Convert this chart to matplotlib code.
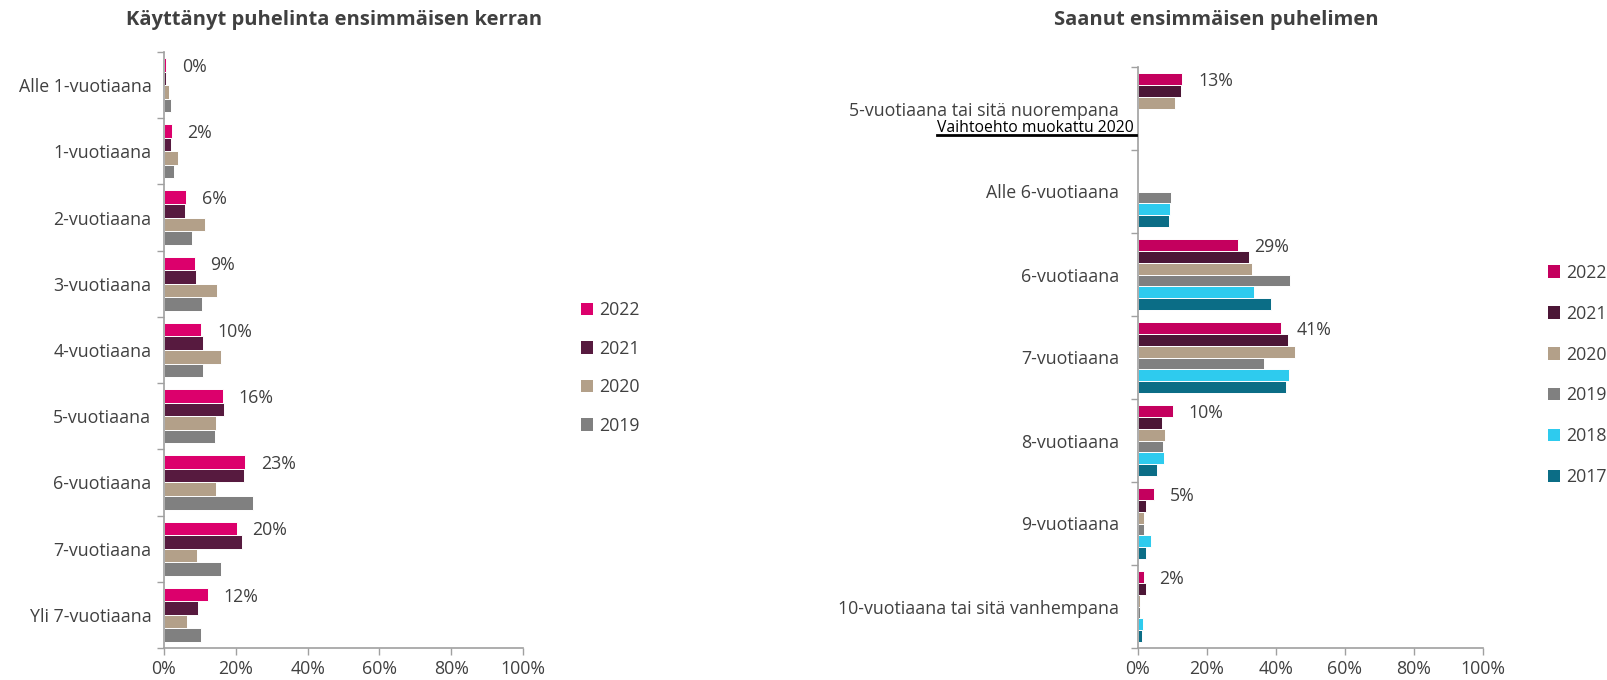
import numpy as np
import matplotlib
matplotlib.use('Agg')
import matplotlib.pyplot as plt
from matplotlib.lines import Line2D

plt.rcParams['font.family'] = ['Open Sans', 'DejaVu Sans']

# vasen kuvio: käyttänyt puhelinta ensimmäisen kerran
left_cats = ['Alle 1-vuotiaana', '1-vuotiaana', '2-vuotiaana', '3-vuotiaana', '4-vuotiaana',
             '5-vuotiaana', '6-vuotiaana', '7-vuotiaana', 'Yli 7-vuotiaana']
left_2022 = [0.5, 2.1, 6.0, 8.5, 10.3, 16.4, 22.7, 20.2, 12.2]
left_2021 = [0.6, 1.9, 5.8, 9.0, 10.8, 16.7, 22.4, 21.8, 9.4]
left_2020 = [1.4, 4.0, 11.5, 14.8, 16.0, 14.4, 14.4, 9.2, 6.5]
left_2019 = [2.0, 2.9, 7.8, 10.7, 10.8, 14.2, 24.7, 16.0, 10.4]
left_labels = ['0%', '2%', '6%', '9%', '10%', '16%', '23%', '20%', '12%']

# oikea kuvio: saanut ensimmäisen puhelimen
right_cats = ['5-vuotiaana tai sitä nuorempana', 'Alle 6-vuotiaana', '6-vuotiaana', '7-vuotiaana',
              '8-vuotiaana', '9-vuotiaana', '10-vuotiaana tai sitä vanhempana']
right_2022 = [12.8, np.nan, 28.9, 41.4, 10.1, 4.6, 1.6]
right_2021 = [12.5, np.nan, 32.2, 43.5, 6.9, 2.4, 2.4]
right_2020 = [10.7, np.nan, 33.1, 45.6, 7.9, 1.7, 0.5]
right_2019 = [np.nan, 9.6, 44.0, 36.5, 7.3, 1.6, 0.5]
right_2018 = [np.nan, 9.4, 33.7, 43.8, 7.5, 3.9, 1.4]
right_2017 = [np.nan, 9.0, 38.5, 43.0, 5.5, 2.4, 1.3]
right_labels = ['13%', '', '29%', '41%', '10%', '5%', '2%']

years_left = ['2022', '2021', '2020', '2019']
years_right = ['2022', '2021', '2020', '2019', '2018', '2017']
colors_left = ['#DC006C', '#571A3F', '#B3A089', '#808080']
colors_right = ['#C4005E', '#4C1636', '#B3A089', '#808080', '#2ECBEE', '#0B6D86']

txt = '#404040'
axcol = '#A0A0A0'
fs = 12.8

fig = plt.figure(figsize=(16.07, 6.8), dpi=100)
ax1 = fig.add_axes([164 / 1607, 1 - 648 / 680, 359 / 1607, 596 / 680])
ax2 = fig.add_axes([1138 / 1607, 1 - 648 / 680, 345 / 1607, 581 / 680])


def draw(ax, cats, series, years, colors, labels, bh):
    n = len(cats)
    y = np.arange(n)
    k = len(series)
    for j, vals in enumerate(series):
        pos = y - bh * k / 2 + bh * (j + 0.5)
        ax.barh(pos, vals, height=bh, color=colors[j], edgecolor='white',
                linewidth=0.7, label=years[j])
    top = series[0]
    for i in range(n):
        if labels[i] == '':
            continue
        ax.annotate(labels[i], xy=(top[i], y[i] - bh * k / 2 + bh * 0.5),
                    xytext=(11.5, -1.5), textcoords='offset points',
                    ha='left', va='center', fontsize=fs, color=txt)
    ax.set_xlim(0, 100)
    ax.set_ylim(n - 0.5, -0.5)
    ax.set_xticks(range(0, 101, 20))
    ax.set_xticklabels([f'{v}%' for v in range(0, 101, 20)])
    ax.set_yticks(y)
    ax.set_yticklabels(cats)
    ax.set_yticks(np.arange(n + 1) - 0.5, minor=True)
    ax.tick_params(axis='y', which='major', length=0, pad=9, labelsize=fs, labelcolor=txt)
    ax.tick_params(axis='y', which='minor', length=5, color=axcol, width=1)
    ax.tick_params(axis='x', length=5, color=axcol, width=1, labelsize=fs, labelcolor=txt, pad=4)
    for s in ['top', 'right']:
        ax.spines[s].set_visible(False)
    for s in ['left', 'bottom']:
        ax.spines[s].set_color(axcol)
        ax.spines[s].set_linewidth(1.2)


draw(ax1, left_cats, [left_2022, left_2021, left_2020, left_2019],
     years_left, colors_left, left_labels, 0.205)
draw(ax2, right_cats, [right_2022, right_2021, right_2020, right_2019, right_2018, right_2017],
     years_right, colors_right, right_labels, 0.1425)
ax2.tick_params(axis='y', which='major', pad=13.5)

fig.text(334 / 1607, 1 - 20 / 680, 'Käyttänyt puhelinta ensimmäisen kerran', ha='center', va='center',
         fontsize=14.5, fontweight='bold', color=txt)
fig.text(1216 / 1607, 1 - 20 / 680, 'Saanut ensimmäisen puhelimen', ha='center', va='center',
         fontsize=14.5, fontweight='bold', color=txt)

leg1 = ax1.legend(loc='center left', bbox_to_anchor=(565 / 1607, 1 - 368 / 680),
                  bbox_transform=fig.transFigure, frameon=False, fontsize=fs,
                  handlelength=0.7, handleheight=0.7, handletextpad=0.3, labelspacing=1.16)
leg2 = ax2.legend(loc='center left', bbox_to_anchor=(1532 / 1607, 1 - 375 / 680),
                  bbox_transform=fig.transFigure, frameon=False, fontsize=fs,
                  handlelength=0.7, handleheight=0.7, handletextpad=0.3, labelspacing=1.29)
for leg in [leg1, leg2]:
    for t in leg.get_texts():
        t.set_color(txt)
    for h in leg.legend_handles:
        h.set_edgecolor('none')

# lisärivi ensimmäisen vaihtoehdon alle, alleviivattuna
note = ax2.annotate('Vaihtoehto muokattu 2020', xy=(0, 0), xycoords=('axes fraction', 'data'),
                    xytext=(-3, -14), textcoords='offset points', ha='right', va='center',
                    fontsize=11.3, color='black')
fig.canvas.draw()
bb = note.get_window_extent()
fig.add_artist(Line2D([bb.x0 / 1607, (bb.x1 + 2) / 1607], [(bb.y0 + 0.5) / 680, (bb.y0 + 0.5) / 680],
                      transform=fig.transFigure, color='black', linewidth=2))

fig.savefig('out.png', dpi=100)
